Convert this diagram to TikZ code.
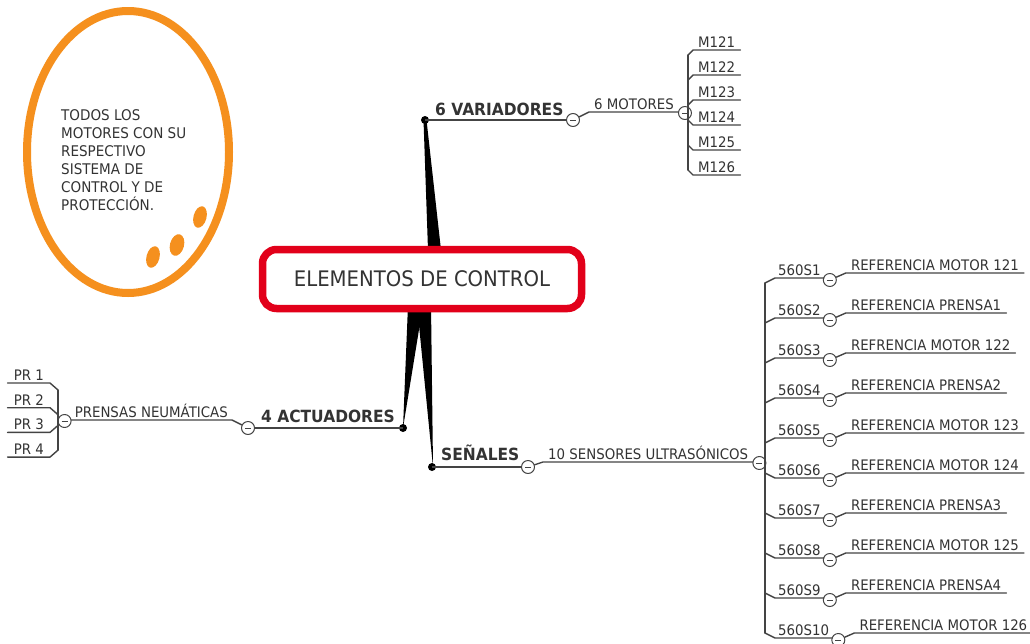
\documentclass[tikz,border=0pt]{standalone}
\usepackage{fontspec}
\setmainfont[FakeStretch=0.92]{DejaVu Sans}
\usetikzlibrary{positioning}
\definecolor{txtgray}{HTML}{333333}
\definecolor{lngray}{HTML}{444444}
\definecolor{annorange}{HTML}{F5901E}
\definecolor{rootred}{HTML}{E2001A}
\begin{document}
\begin{tikzpicture}[x=1pt,y=-1pt,line join=round,
  mln/.style={draw=lngray,line width=2pt},
  sln/.style={draw=lngray,line width=1.4pt,line cap=round},
  mainlbl/.style={font=\bfseries\fontsize{16.8}{19}\selectfont,text=txtgray,inner sep=0pt},
  sublbl/.style={font=\fontsize{14.5}{17}\selectfont,text=txtgray,inner xsep=5pt,inner ysep=2.5pt},
  knob/.style={circle,draw=lngray,line width=1pt,fill=white,minimum size=13pt,inner sep=0pt,
    path picture={\draw[lngray,line width=1pt] ([xshift=-3pt]path picture bounding box.center) -- ([xshift=3pt]path picture bounding box.center);}},
  hub/.style={circle,fill=black,minimum size=8pt,inner sep=0pt},
  rootbox/.style={draw=rootred,line width=7.5pt,rounded corners=14pt,fill=white,
    minimum width=319pt,minimum height=59pt,font=\fontsize{21.4}{25}\selectfont,text=txtgray}]
\useasboundingbox (0,0) rectangle (1030,643);
\fill[white] (0,0) rectangle (1030,643);
% ================ note ellipse ================
\draw[annorange,line width=8pt] (128,152) ellipse [x radius=101pt,y radius=141pt];
\node[align=left,anchor=north west,inner sep=0pt,font=\fontsize{14.7}{18}\selectfont,text=txtgray] (note) at (61,109)
  {TODOS LOS\\MOTORES CON SU\\RESPECTIVO\\SISTEMA DE\\CONTROL Y DE\\PROTECCIÓN.};
\fill[annorange,rotate around={-15:(153,257)}] (153,257) ellipse [x radius=6.5pt,y radius=11pt];
\fill[annorange,rotate around={-15:(177,245)}] (177,245) ellipse [x radius=7pt,y radius=11pt];
\fill[annorange,rotate around={-15:(200,217)}] (200,217) ellipse [x radius=6.5pt,y radius=11pt];
% ================ tapered branches + root ================
\fill (423.5,120) -- (426.5,120) -- (441,250) -- (428,250) -- cycle;
\fill (408,305) -- (423,305) -- (403,428) -- cycle;
\fill (417,305) -- (431,305) -- (433,467) -- cycle;
\node[rootbox] (root) at (422,279) {ELEMENTOS DE CONTROL};
% ================ 6 VARIADORES ================
\node[hub] (hv) at (425,120) {};
\node[mainlbl,anchor=base west] (var) at (435,115) {6 VARIADORES};
\node[knob] (kv) at (573,120) {};
\draw[mln] (hv.center) -- (kv);
\node[sublbl,anchor=south west] (mot) at ([xshift=9pt,yshift=8pt]kv.east) {6 MOTORES};
\draw[sln] (kv) -- (mot.south west) -- (mot.south east);
\node[knob] (km) at ([xshift=6pt,yshift=-1pt]mot.south east) {};
\foreach \n [count=\i] in {121,...,126}{
  \node[sublbl,anchor=south west] (m\i) at (693,{50+25*(\i-1)}) {M\n};
  \draw[sln] (m\i.south east) -- (m\i.south west) -- ++(-5,{\i<4 ? 5 : -5});
}
\draw[sln] ([xshift=-5pt,yshift=-5pt]m1.south west) -- ([xshift=-5pt,yshift=5pt]m6.south west);
% ================ 4 ACTUADORES ================
\node[hub] (ha) at (403,428) {};
\node[mainlbl,anchor=base east] (act) at (395,422) {4 ACTUADORES};
\node[knob] (ka) at (248,428) {};
\draw[mln] (ha.center) -- (ka);
\node[sublbl,anchor=south east,inner xsep=4pt] (pn) at ([xshift=-9pt,yshift=8pt]ka.west) {PRENSAS NEUMÁTICAS};
\draw[sln] (ka) -- (pn.south east) -- (pn.south west);
\node[knob] (kp) at ([xshift=-6pt,yshift=-1pt]pn.south west) {};
\foreach \i in {1,...,4}{
  \node[sublbl,anchor=south east,inner xsep=6pt] (p\i) at (50,{383+24.7*(\i-1)}) {PR \i};
  \draw[sln] (p\i.south west) -- (p\i.south east) -- ++(8,{\i<3 ? 7 : -7});
}
\draw[sln] ([xshift=8pt,yshift=-7pt]p1.south east) -- ([xshift=8pt,yshift=7pt]p4.south east);
% ================ SEÑALES ================
\node[hub] (hs) at (432,467) {};
\node[mainlbl,anchor=base west] (sen) at (441,460) {SEÑALES};
\node[knob] (ks) at (528,467) {};
\draw[mln] (hs.center) -- (ks);
\node[sublbl,anchor=south west] (ult) at ([xshift=8pt,yshift=5pt]ks.east) {10 SENSORES ULTRASÓNICOS};
\draw[sln] (ks) -- (ult.south west) -- (ult.south east);
\node[knob] (ku) at ([xshift=6pt,yshift=-1pt]ult.south east) {};
\foreach \t [count=\i] in {REFERENCIA MOTOR 121,REFERENCIA PRENSA1,REFRENCIA MOTOR 122,
  REFERENCIA PRENSA2,REFERENCIA MOTOR 123,REFERENCIA MOTOR 124,REFERENCIA PRENSA3,
  REFERENCIA MOTOR 125,REFERENCIA PRENSA4,REFERENCIA MOTOR 126}{
  \node[sublbl,anchor=south west,inner xsep=3pt] (s\i) at (775,{278+40*(\i-1)}) {560S\i};
  \node[knob] (k\i) at ([xshift=6pt,yshift=-2pt]s\i.south east) {};
  \node[sublbl,anchor=south west] (r\i) at ([xshift=9pt,yshift=7pt]k\i.east) {\t};
  \draw[sln] (s\i.south east) -- (s\i.south west) -- ++(-10,{\i<6 ? 5 : -5});
  \draw[sln] (k\i) -- (r\i.south west) -- (r\i.south east);
}
\draw[sln] ([xshift=-10pt,yshift=-5pt]s1.south west) -- ([xshift=-10pt,yshift=5pt]s10.south west);
\end{tikzpicture}
\end{document}
